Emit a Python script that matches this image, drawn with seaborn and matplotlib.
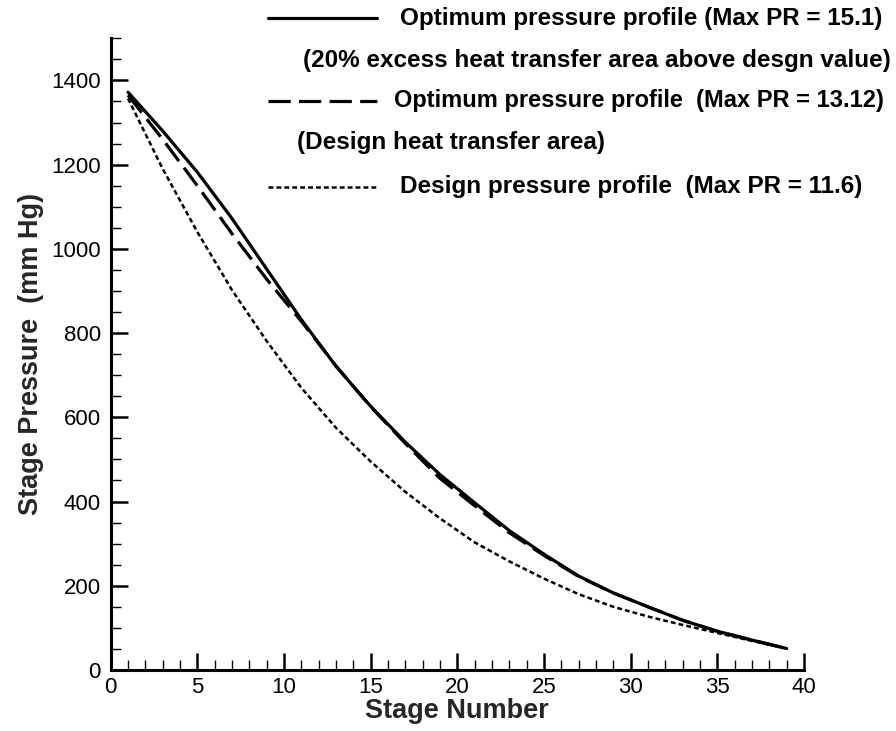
import matplotlib
matplotlib.use("Agg")
import matplotlib.pyplot as plt
from matplotlib.lines import Line2D
import seaborn as sns
import pandas as pd

# ---- data ----
stages = [1, 3, 5, 7, 9, 11, 13, 15, 17, 19, 21, 23, 25, 27, 29, 31, 33, 35, 37, 39]
opt_excess = [1372, 1280, 1182, 1072, 952, 832, 721, 626, 541, 464, 397, 331, 275, 223, 183, 150, 118, 92, 71, 51]
opt_design = [1365, 1260, 1150, 1036, 928, 828, 722, 625, 538, 455, 390, 326, 272, 222, 183, 150, 118, 92, 71, 51]
design = [1357, 1190, 1040, 902, 781, 670, 575, 495, 423, 360, 303, 258, 217, 180, 150, 127, 107, 88, 69, 51]

names = ["opt_excess", "opt_design", "design"]
legend_rows = [
    "Optimum pressure profile (Max PR = 15.1)",
    "(20% excess heat transfer area above desgn value)",
    "Optimum pressure profile  (Max PR = 13.12)",
    "(Design heat transfer area)",
    "Design pressure profile  (Max PR = 11.6)",
]
x_ticks = [0, 5, 10, 15, 20, 25, 30, 35, 40]
y_ticks = [0, 200, 400, 600, 800, 1000, 1200, 1400]

df = pd.concat([
    pd.DataFrame({"Stage": stages, "Pressure": opt_excess, "Profile": names[0]}),
    pd.DataFrame({"Stage": stages, "Pressure": opt_design, "Profile": names[1]}),
    pd.DataFrame({"Stage": stages, "Pressure": design, "Profile": names[2]}),
])

sns.set_style("ticks")
plt.rcParams["font.family"] = ["Liberation Sans", "DejaVu Sans"]
plt.rcParams["lines.scale_dashes"] = False

W, H = 896, 731
fig = plt.figure(figsize=(W / 100, H / 100), dpi=100)
ax = fig.add_axes([110.7 / W, 61 / H, 693.3 / W, 631.7 / H])

dash_map = {names[0]: "", names[1]: (16, 6), names[2]: (3.5, 2.2)}
sns.lineplot(data=df, x="Stage", y="Pressure", style="Profile",
             style_order=names, dashes=dash_map, color="black",
             linewidth=2.2, legend=False, ax=ax, estimator=None)
for ln, lw in zip(ax.get_lines(), [2.3, 2.3, 1.8]):
    ln.set_linewidth(lw)
    ln.set_solid_joinstyle("round")
    ln.set_dash_joinstyle("round")

ax.set_xlim(0, 40)
ax.set_ylim(0, 1500)
ax.set_xticks(x_ticks)
ax.set_xticks(range(0, 41), minor=True)
ax.set_yticks(y_ticks)
ax.set_yticks(range(0, 1501, 50), minor=True)
ax.tick_params(axis="both", which="major", direction="in", length=12, width=1.8,
               labelsize=16, color="black", labelcolor="black")
ax.tick_params(axis="both", which="minor", direction="in", length=7, width=1.0,
               color="black")
ax.tick_params(axis="x", which="major", pad=5)
ax.tick_params(axis="y", which="major", pad=7)

for s in ["top", "right"]:
    ax.spines[s].set_visible(False)
for s in ["left", "bottom"]:
    ax.spines[s].set_linewidth(2.2)
    ax.spines[s].set_color("black")

ax.set_xlabel("Stage Number", fontsize=19.5, fontweight="bold", labelpad=0)
ax.set_ylabel("Stage Pressure  (mm Hg)", fontsize=19.5, fontweight="bold", labelpad=5)

# legend (manual layout, as in the reference)
def fy(y):
    return 1 - y / H

key_styles = [("-", None, 2.3), ("--", (16, 6), 2.3), (":", (3.5, 2.2), 1.8)]
key_rows = [18, 101, 187]
for (ls, dsh, lw), yy in zip(key_styles, key_rows):
    l = Line2D([268 / W, 377 / W], [fy(yy), fy(yy)], transform=fig.transFigure,
               color="black", linewidth=lw)
    if dsh is not None:
        l.set_dashes(dsh)
    fig.add_artist(l)

text_pos = [(400, 18), (303, 60), (394, 101), (297, 143), (400, 187)]
text_size = [17.5, 17.5, 17.0, 17.5, 17.5]
for txt, (xx, yy), fs in zip(legend_rows, text_pos, text_size):
    fig.text(xx / W, fy(yy), txt, fontsize=fs, fontweight="bold",
             ha="left", va="center", color="black")

fig.savefig("out.png", dpi=100)
